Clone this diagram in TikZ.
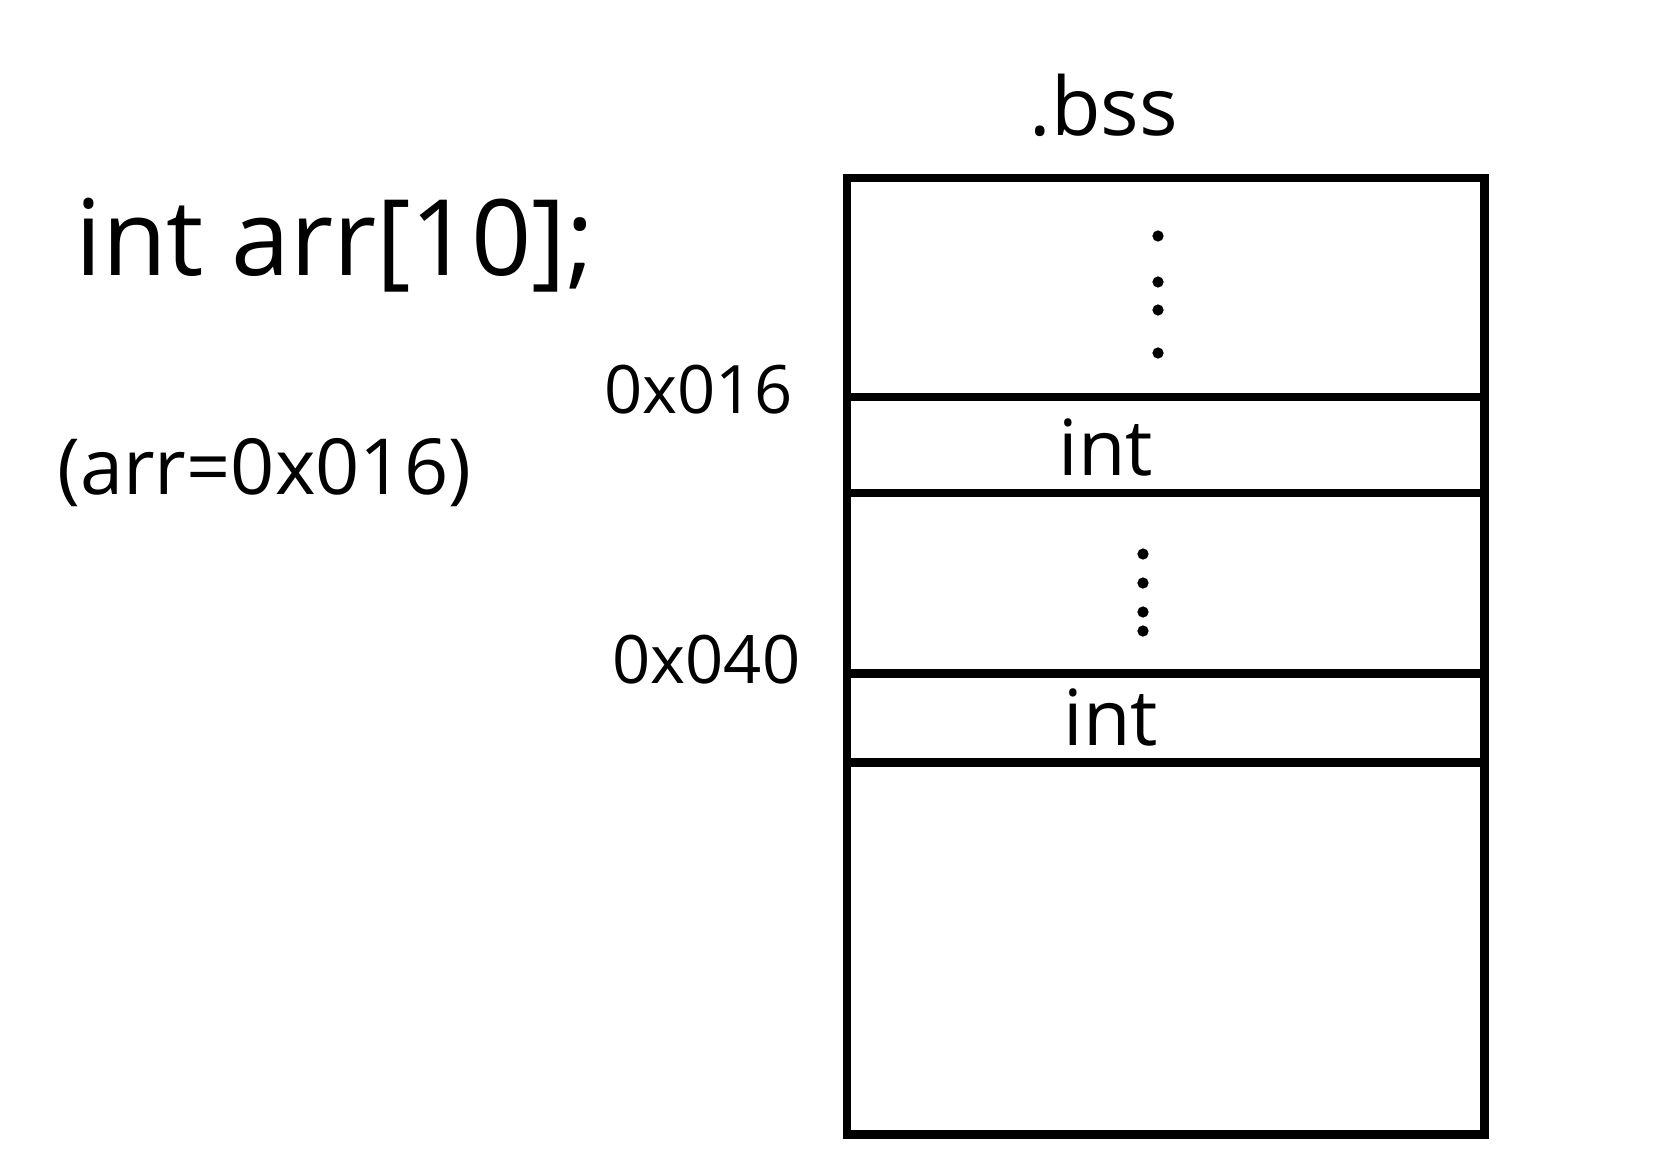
\documentclass[tikz,border=0pt]{standalone}
\usepackage{fontspec}
\setmainfont{Open Sans}
\usetikzlibrary{%
	calc,%
	positioning,%
}
\tikzset{
	nodes={align=center},%
	cell/.style={%
			draw,%
			rectangle,%
			line width=2.4pt,%
			inner sep=0,%
			outer sep=0,%
			minimum width=6.37cm},%
	celllabel/.style={%
			font={\fontsize{22}{24}\selectfont}},%
	addrlabel/.style={%
			font={\fontsize{19}{21}\selectfont},%
			inner sep=0},%
	codetext/.style={%
			inner sep=0},%
}

\begin{document}
\begin{tikzpicture}[x=0.01cm, y=-0.01cm]%
	\useasboundingbox (0,0) rectangle (1670,1173);

	\node[font={\fontsize{23}{25}\selectfont}, inner sep=0] (bss) at (1104,105) {.bss};

	\node[cell, minimum height=2.19cm, anchor=north west] (top) at (847,178) {};
	\node[cell, minimum height=0.96cm] (int1) [below=0cm of top] {};
	\node[cell, minimum height=1.80cm] (gap) [below=0cm of int1] {};
	\node[cell, minimum height=0.89cm] (int2) [below=0cm of gap] {};
	\node[cell, minimum height=3.72cm] (rest) [below=0cm of int2] {};

	\node[celllabel] (int1text) at ($(int1.center)+(-60,2)$) {int};
	\node[celllabel] (int2text) at ($(int2.center)+(-55,0)$) {int};

	\node[addrlabel, anchor=east] (addr1) at ($(int1.north west)+(-54,-8)$) {0x016};
	\node[addrlabel, anchor=east] (addr2) at ($(int2.north west)+(-46,-14)$) {0x040};

	\node[codetext, font={\fontsize{30}{32}\selectfont}] (decl) at (335,245) {int arr[10];};
	\node[codetext, font={\fontsize{22}{24}\selectfont}] (note) [below=1.45cm of decl.south west, anchor=north west, xshift=-0.18cm] {(arr=0x016)};

	% vertical dots in the two gaps
	\foreach \y in {236,282,310,353}
		\fill (1158,\y) circle (1.6pt);
	\foreach \y in {554,583,612,631}
		\fill (1143,\y) circle (1.6pt);
\end{tikzpicture}
\end{document}
